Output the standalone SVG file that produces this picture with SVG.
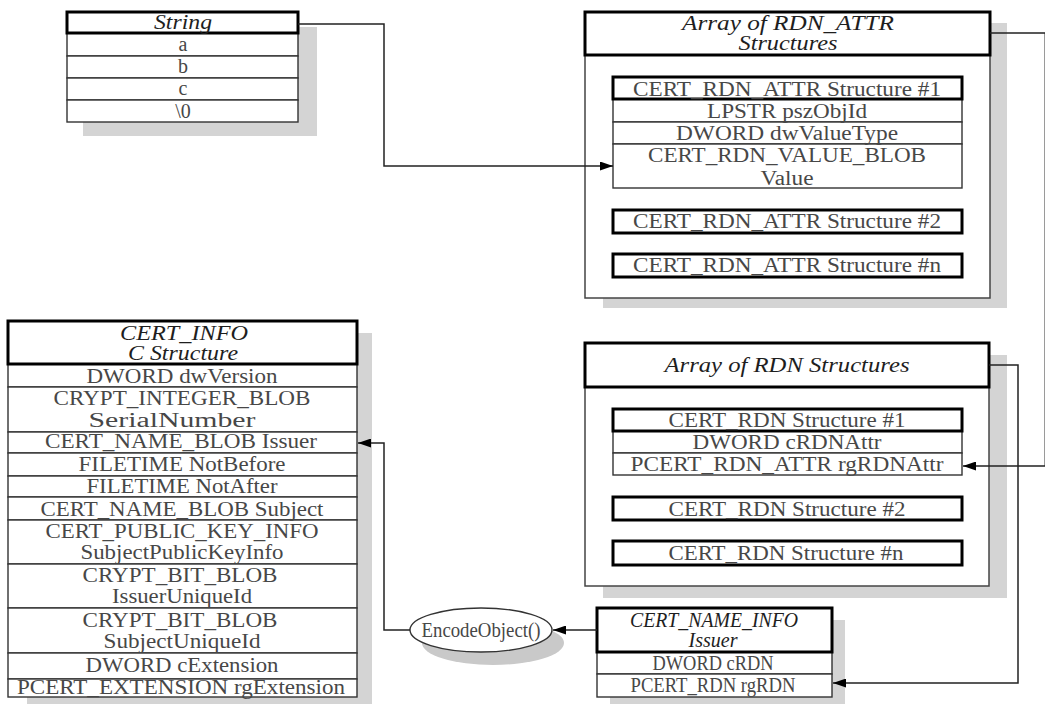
<svg xmlns="http://www.w3.org/2000/svg" width="1045" height="704" viewBox="0 0 1045 704">
<style>
.sh{fill:#d4d4d4}
.esh{fill:#c9c9c9}
.row{fill:#fff;stroke:#333;stroke-width:1.4}
.hd{fill:#fff;stroke:#000;stroke-width:3}
.box{fill:#fff;stroke:#444;stroke-width:1.5}
text{font-family:"Liberation Serif","Times New Roman",serif;font-size:20px;fill:#474747;text-anchor:middle}
.t{font-style:italic;fill:#1e1e1e}
.cn{fill:none;stroke:#222;stroke-width:1.5}
</style>
<defs>
<marker id="ah" markerUnits="userSpaceOnUse" markerWidth="13" markerHeight="9" refX="13" refY="4.5" orient="auto">
<path d="M0,0 L13,4.5 L0,9 z" fill="#000"/>
</marker>
</defs>

<!-- String -->
<g id="string">
<rect class="sh" x="83" y="27" width="234" height="109"/>
<rect class="row" x="67" y="33" width="231" height="23"/>
<rect class="row" x="67" y="56" width="231" height="22"/>
<rect class="row" x="67" y="78" width="231" height="22"/>
<rect class="row" x="67" y="100" width="231" height="22"/>
<rect class="hd" x="67" y="12" width="231" height="21"/>
<text class="t" x="183" y="29" textLength="58" lengthAdjust="spacingAndGlyphs">String</text>
<text x="183" y="51">a</text>
<text x="183" y="73">b</text>
<text x="183" y="95">c</text>
<text x="183" y="118">\0</text>
</g>

<!-- Array of RDN_ATTR -->
<g id="rdn-attr-array">
<rect class="sh" x="603" y="23" width="404" height="285"/>
<rect class="box" x="585" y="12" width="405" height="286"/>
<rect class="hd" x="585" y="12" width="405" height="43"/>
<text class="t" x="788" y="30" textLength="212" lengthAdjust="spacingAndGlyphs">Array of RDN_ATTR</text>
<text class="t" x="788" y="50" textLength="99" lengthAdjust="spacingAndGlyphs">Structures</text>
<rect class="row" x="613" y="99" width="349" height="23"/>
<rect class="row" x="613" y="122" width="349" height="22"/>
<rect class="row" x="613" y="144" width="349" height="44"/>
<rect class="hd" x="613" y="77" width="349" height="22"/>
<text x="787" y="96" textLength="308" lengthAdjust="spacingAndGlyphs">CERT_RDN_ATTR Structure #1</text>
<text x="787" y="118" textLength="160" lengthAdjust="spacingAndGlyphs">LPSTR pszObjId</text>
<text x="787" y="140" textLength="222" lengthAdjust="spacingAndGlyphs">DWORD dwValueType</text>
<text x="787" y="162" textLength="278" lengthAdjust="spacingAndGlyphs">CERT_RDN_VALUE_BLOB</text>
<text x="787" y="185" textLength="53" lengthAdjust="spacingAndGlyphs">Value</text>
<rect class="hd" x="613" y="210" width="349" height="23"/>
<text x="787" y="228" textLength="308" lengthAdjust="spacingAndGlyphs">CERT_RDN_ATTR Structure #2</text>
<rect class="hd" x="613" y="254" width="349" height="23"/>
<text x="787" y="272" textLength="308" lengthAdjust="spacingAndGlyphs">CERT_RDN_ATTR Structure #n</text>
</g>

<!-- CERT_INFO -->
<g id="cert-info">
<rect class="sh" x="27" y="333" width="345" height="371"/>
<rect class="row" x="8" y="364" width="349" height="23"/>
<rect class="row" x="8" y="387" width="349" height="45"/>
<rect class="row" x="8" y="432" width="349" height="21"/>
<rect class="row" x="8" y="453" width="349" height="23"/>
<rect class="row" x="8" y="476" width="349" height="21"/>
<rect class="row" x="8" y="497" width="349" height="23"/>
<rect class="row" x="8" y="520" width="349" height="44"/>
<rect class="row" x="8" y="564" width="349" height="44"/>
<rect class="row" x="8" y="608" width="349" height="45"/>
<rect class="row" x="8" y="653" width="349" height="26"/>
<rect class="row" x="8" y="679" width="349" height="18"/>
<rect class="hd" x="8" y="321" width="349" height="43"/>
<text class="t" x="184" y="340" textLength="128" lengthAdjust="spacingAndGlyphs">CERT_INFO</text>
<text class="t" x="183" y="360" textLength="110" lengthAdjust="spacingAndGlyphs">C Structure</text>
<text x="182" y="383" textLength="191" lengthAdjust="spacingAndGlyphs">DWORD dwVersion</text>
<text x="182" y="405" textLength="257" lengthAdjust="spacingAndGlyphs">CRYPT_INTEGER_BLOB</text>
<text x="172" y="427" textLength="167" lengthAdjust="spacingAndGlyphs">SerialNumber</text>
<text x="181" y="448" textLength="272" lengthAdjust="spacingAndGlyphs">CERT_NAME_BLOB Issuer</text>
<text x="182" y="471" textLength="207" lengthAdjust="spacingAndGlyphs">FILETIME NotBefore</text>
<text x="182" y="493" textLength="191" lengthAdjust="spacingAndGlyphs">FILETIME NotAfter</text>
<text x="182" y="516" textLength="283" lengthAdjust="spacingAndGlyphs">CERT_NAME_BLOB Subject</text>
<text x="182" y="538" textLength="273" lengthAdjust="spacingAndGlyphs">CERT_PUBLIC_KEY_INFO</text>
<text x="182" y="559" textLength="203" lengthAdjust="spacingAndGlyphs">SubjectPublicKeyInfo</text>
<text x="180" y="582" textLength="195" lengthAdjust="spacingAndGlyphs">CRYPT_BIT_BLOB</text>
<text x="182" y="603" textLength="140" lengthAdjust="spacingAndGlyphs">IssuerUniqueId</text>
<text x="180" y="627" textLength="195" lengthAdjust="spacingAndGlyphs">CRYPT_BIT_BLOB</text>
<text x="182" y="648" textLength="157" lengthAdjust="spacingAndGlyphs">SubjectUniqueId</text>
<text x="182" y="672" textLength="193" lengthAdjust="spacingAndGlyphs">DWORD cExtension</text>
<text x="181" y="694" textLength="328" lengthAdjust="spacingAndGlyphs">PCERT_EXTENSION rgExtension</text>
</g>

<!-- Array of RDN -->
<g id="rdn-array">
<rect class="sh" x="603" y="355" width="404" height="243"/>
<rect class="box" x="585" y="343" width="404" height="243"/>
<rect class="hd" x="585" y="343" width="404" height="44"/>
<text class="t" x="787" y="372" textLength="245" lengthAdjust="spacingAndGlyphs">Array of RDN Structures</text>
<rect class="row" x="613" y="431" width="349" height="22"/>
<rect class="row" x="613" y="453" width="349" height="22"/>
<rect class="hd" x="613" y="409" width="349" height="22"/>
<text x="787" y="427" textLength="237" lengthAdjust="spacingAndGlyphs">CERT_RDN Structure #1</text>
<text x="787" y="449" textLength="189" lengthAdjust="spacingAndGlyphs">DWORD cRDNAttr</text>
<text x="787" y="471" textLength="313" lengthAdjust="spacingAndGlyphs">PCERT_RDN_ATTR rgRDNAttr</text>
<rect class="hd" x="613" y="497" width="349" height="23"/>
<text x="787" y="516" textLength="237" lengthAdjust="spacingAndGlyphs">CERT_RDN Structure #2</text>
<rect class="hd" x="613" y="541" width="349" height="24"/>
<text x="786" y="560" textLength="235" lengthAdjust="spacingAndGlyphs">CERT_RDN Structure #n</text>
</g>

<!-- EncodeObject() -->
<g id="encode-object">
<ellipse class="esh" cx="493" cy="643" rx="71" ry="22"/>
<ellipse cx="481" cy="630" rx="71" ry="22" fill="#fff" stroke="#333" stroke-width="1.4"/>
<text x="481" y="637" textLength="119" lengthAdjust="spacingAndGlyphs">EncodeObject()</text>
</g>

<!-- CERT_NAME_INFO -->
<g id="cert-name-info">
<rect class="sh" x="610" y="620" width="235" height="84"/>
<rect class="row" x="597" y="652" width="235" height="22"/>
<rect class="row" x="597" y="674" width="235" height="23"/>
<rect class="hd" x="597" y="608" width="235" height="44"/>
<text class="t" x="714" y="627" textLength="168" lengthAdjust="spacingAndGlyphs">CERT_NAME_INFO</text>
<text class="t" x="713" y="647" textLength="49" lengthAdjust="spacingAndGlyphs">Issuer</text>
<text x="713" y="670" textLength="121" lengthAdjust="spacingAndGlyphs">DWORD cRDN</text>
<text x="713" y="692" textLength="165" lengthAdjust="spacingAndGlyphs">PCERT_RDN rgRDN</text>
</g>

<!-- connectors -->
<g id="connectors">
<path class="cn" d="M298,24 H384 V166 H613" marker-end="url(#ah)"/>
<path class="cn" d="M990,33 H1045.3 V466 H963" marker-end="url(#ah)"/>
<path class="cn" d="M989,365 H1018 V683 H833" marker-end="url(#ah)"/>
<path class="cn" d="M597,630 H553" marker-end="url(#ah)"/>
<path class="cn" d="M410,630 H384 V443 H358" marker-end="url(#ah)"/>
</g>
</svg>
